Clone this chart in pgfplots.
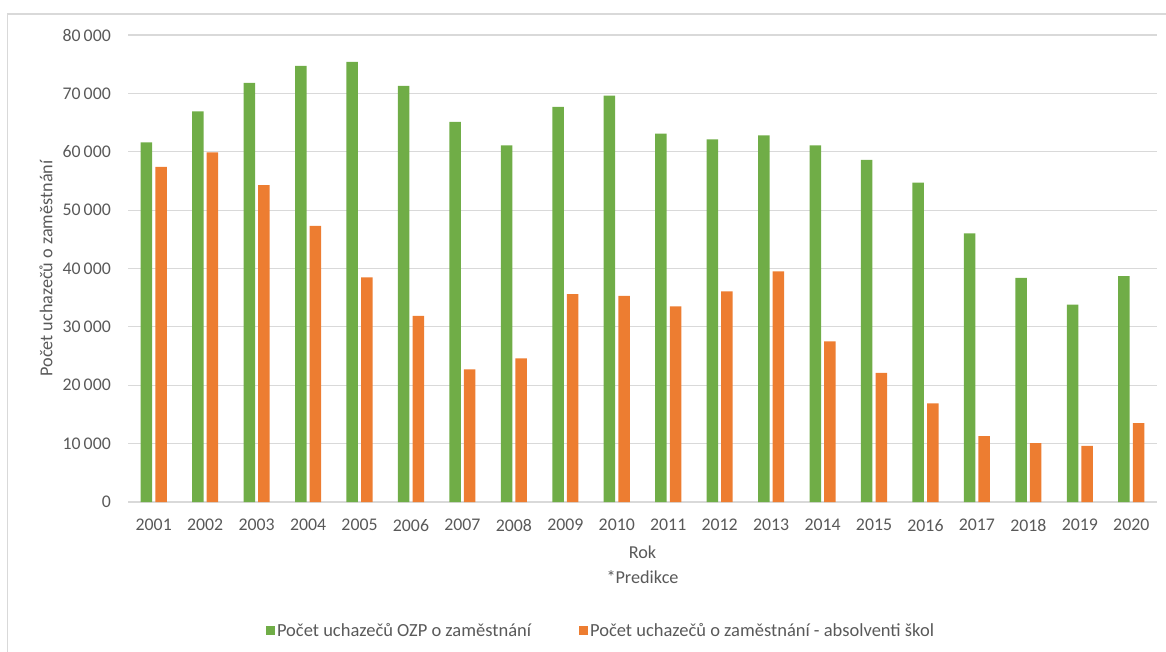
\documentclass[border=0pt]{standalone}
\usepackage{pgfplots}
\pgfplotsset{compat=1.18}
\usepackage{pgfplotstable}
\usepackage{fontspec}
\setmainfont{Carlito}
\definecolor{grn}{HTML}{70AD47}
\definecolor{org}{HTML}{ED7D31}
\definecolor{txt}{HTML}{595959}
\definecolor{grd}{HTML}{D9D9D9}

% rok (0 = 2001), uchazeci OZP, absolventi skol
\pgfplotstableread{
x ozp abs
0  61600 57400
1  66900 59900
2  71800 54300
3  74700 47300
4  75400 38500
5  71300 31900
6  65100 22700
7  61100 24600
8  67700 35600
9  69600 35300
10 63100 33500
11 62100 36100
12 62800 39500
13 61100 27500
14 58600 22100
15 54700 16900
16 46000 11300
17 38400 10100
18 33800  9600
19 38700 13500
}\data

\begin{document}
\begin{tikzpicture}[x=1pt,y=1pt]
\useasboundingbox (0,0) rectangle (1166,651);
\draw[grd, line width=1.5pt] (7.5,637) rectangle (1200,-20);
\begin{axis}[
    at={(128pt,149pt)}, anchor=south west,
    scale only axis,
    width=1029pt, height=467pt,
    xmin=-0.5, xmax=19.5,
    ymin=0, ymax=80000,
    xtick={0,...,19},
    xticklabels={2001,2002,2003,2004,2005,2006,2007,2008,2009,2010,2011,2012,2013,2014,2015,2016,2017,2018,2019,2020},
    ytick={0,10000,...,80000},
    scaled y ticks=false,
    /pgf/number format/1000 sep={\,},
    /pgf/number format/assume math mode=true,
    ymajorgrids=true,
    major grid style={grd, line width=1.2pt},
    axis line style={draw=none},
    major tick length=0pt,
    tick label style={font=\fontsize{17.8}{21}\selectfont, text=txt, inner sep=0pt},
    yticklabel style={anchor=east, xshift=-17pt},
    xticklabel style={anchor=north, yshift=-17pt},
    ylabel={Počet uchazečů o zaměstnání},
    every axis y label/.style={at={(axis description cs:-0.0797,0.5)}, rotate=90, anchor=center,
        font=\fontsize{18.2}{21}\selectfont, text=txt},
    legend columns=2,
    legend style={at={(axis description cs:0.4597,-0.276)}, anchor=center, draw=none, fill=none,
        font=\fontsize{18.5}{22}\selectfont, text=txt,
        /tikz/every even column/.append style={column sep=46pt}},
    legend image code/.code={\fill[#1] (0pt,-4.5pt) rectangle (9pt,4.5pt);},
    clip=false,
]
\addplot[ybar, bar width=11.5pt, bar shift=-7.3pt, fill=grn, draw=none] table[x=x, y=ozp] {\data};
\addlegendentry{Počet uchazečů OZP o zaměstnání}
\addplot[ybar, bar width=11.5pt, bar shift=7.3pt, fill=org, draw=none] table[x=x, y=abs] {\data};
\addlegendentry{Počet uchazečů o zaměstnání - absolventi škol}
\node[font=\fontsize{18.2}{21}\selectfont, text=txt] at (axis description cs:0.5,-0.107) {Rok};
\node[font=\fontsize{18.2}{21}\selectfont, text=txt] at (axis description cs:0.5,-0.161) {*Predikce};
\end{axis}
\end{tikzpicture}
\end{document}
